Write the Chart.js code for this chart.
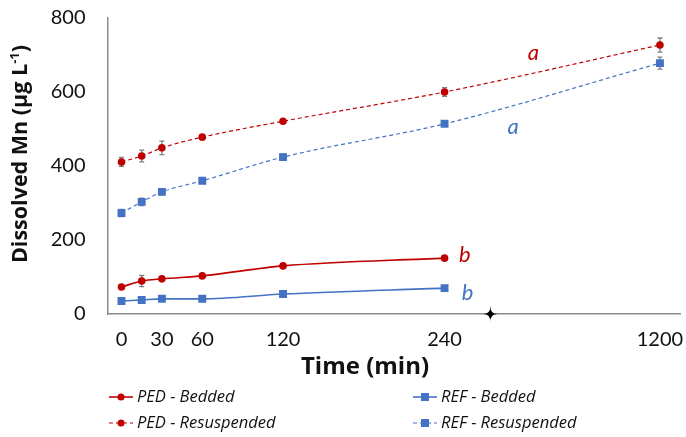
<!DOCTYPE html>
<html>
<head>
<meta charset="utf-8">
<script src="https://cdn.jsdelivr.net/npm/chart.js@4.4.1/dist/chart.umd.min.js"></script>
<style>
  html, body { margin: 0; padding: 0; background: #ffffff; }
  #caixa { width: 686px; height: 437px; position: relative; }
</style>
</head>
<body>
<div id="caixa"><canvas id="grafico"></canvas></div>
<script>
// valores
const tempos = [0, 15, 30, 60, 120, 240, 1200];
const temposTicks = [0, 30, 60, 120, 240, 1200];
const ticksY = [0, 200, 400, 600, 800];

const pedBedded = [73, 89, 95, 103, 130, 151];
const refBedded = [35, 38, 41, 41, 54, 70];
const pedResuspended = [411, 427, 449, 478, 521, 600, 727];
const refResuspended = [273, 303, 330, 360, 424, 514, 678];

const erroPedBedded = [4, 15, 5, 4, 4, 4];
const erroRefBedded = [3, 4, 3, 3, 3, 3];
const erroPedResuspended = [12, 16, 18, 6, 5, 12, 19];
const erroRefResuspended = [10, 10, 8, 5, 8, 6, 16];

const cores = {
    vermelho: '#C00000',
    azul: '#4472C4',
    erro: '#7F7F7F',
    eixo: '#8C8C8C',
    texto: '#111111'
};

// eixo x com quebra: tudo depois de 240 min vai para a posição 400
const quebra = { ate: 240, posicao: 400, marca: 274 };
function posX(t) {
    return t > quebra.ate ? quebra.posicao : t;
}

function pontos(valores) {
    return valores.map((v, i) => ({ x: posX(tempos[i]), y: v }));
}

const fonte = "'Lato', 'Open Sans', sans-serif";
const fonteTitulo = "'Open Sans', 'Lato', sans-serif";

// letras de significância (em unidades dos eixos)
const letras = [
    { texto: 'a', x: 306, y: 705, cor: cores.vermelho },
    { texto: 'a', x: 291, y: 505, cor: cores.azul },
    { texto: 'b', x: 255, y: 160, cor: cores.vermelho },
    { texto: 'b', x: 257, y: 58, cor: cores.azul }
];

const pluginErros = {
    id: 'barrasDeErro',
    beforeDatasetsDraw(chart) {
        const { ctx, scales: { x, y } } = chart;
        ctx.save();
        ctx.strokeStyle = cores.erro;
        ctx.lineWidth = 1.3;
        chart.data.datasets.forEach(ds => {
            ds.erros.forEach((e, j) => {
                const p = ds.data[j];
                const px = x.getPixelForValue(p.x);
                const cima = y.getPixelForValue(p.y + e);
                const baixo = y.getPixelForValue(p.y - e);
                ctx.beginPath();
                ctx.moveTo(px, cima); ctx.lineTo(px, baixo);
                ctx.moveTo(px - 2.5, cima); ctx.lineTo(px + 2.5, cima);
                ctx.moveTo(px - 2.5, baixo); ctx.lineTo(px + 2.5, baixo);
                ctx.stroke();
            });
        });
        ctx.restore();
    }
};

const pluginExtras = {
    id: 'extras',
    afterDraw(chart) {
        const { ctx, scales: { x, y } } = chart;
        ctx.save();

        // letras
        ctx.font = 'italic 22px ' + fonte;
        ctx.textAlign = 'center';
        ctx.textBaseline = 'middle';
        letras.forEach(l => {
            ctx.fillStyle = l.cor;
            ctx.fillText(l.texto, x.getPixelForValue(l.x), y.getPixelForValue(l.y));
        });

        // marca da quebra no eixo x
        const bx = x.getPixelForValue(quebra.marca);
        const by = y.getPixelForValue(0);
        ctx.fillStyle = '#000000';
        ctx.beginPath();
        ctx.moveTo(bx, by - 8);
        ctx.quadraticCurveTo(bx, by, bx + 7, by);
        ctx.quadraticCurveTo(bx, by, bx, by + 8);
        ctx.quadraticCurveTo(bx, by, bx - 7, by);
        ctx.quadraticCurveTo(bx, by, bx, by - 8);
        ctx.fill();

        // título do eixo x
        ctx.fillStyle = cores.texto;
        ctx.font = 'bold 24px ' + fonteTitulo;
        ctx.textAlign = 'center';
        ctx.textBaseline = 'middle';
        ctx.fillText('Time (min)', 365, 367);

        // título do eixo y com expoente
        ctx.translate(27, 154);
        ctx.rotate(-Math.PI / 2);
        ctx.textBaseline = 'alphabetic';
        ctx.textAlign = 'left';
        const partes = [
            { t: 'Dissolved Mn (µg L', f: 'bold 21.5px ' + fonteTitulo, dy: 0 },
            { t: '-1', f: 'bold 13px ' + fonteTitulo, dy: -8 },
            { t: ')', f: 'bold 21.5px ' + fonteTitulo, dy: 0 }
        ];
        let total = 0;
        partes.forEach(p => { ctx.font = p.f; total += ctx.measureText(p.t).width; });
        let cx = -total / 2;
        partes.forEach(p => {
            ctx.font = p.f;
            ctx.fillText(p.t, cx, p.dy);
            cx += ctx.measureText(p.t).width;
        });
        ctx.restore();

        // legenda em duas colunas
        ctx.save();
        ctx.font = 'italic 16.5px ' + fonteTitulo;
        ctx.textBaseline = 'middle';
        ctx.textAlign = 'left';
        const colunas = [109, 413];
        const linhas = [397, 423];
        chart.data.datasets.forEach((ds, i) => {
            const lx = colunas[i % 2];
            const ly = linhas[Math.floor(i / 2)];
            ctx.strokeStyle = ds.borderColor;
            ctx.lineWidth = ds.borderWidth;
            ctx.setLineDash(ds.borderDash || []);
            ctx.beginPath();
            ctx.moveTo(lx, ly); ctx.lineTo(lx + 24, ly);
            ctx.stroke();
            ctx.setLineDash([]);
            ctx.fillStyle = ds.pointBackgroundColor;
            if (ds.pointStyle === 'rect') {
                ctx.fillRect(lx + 12 - 4, ly - 4, 8, 8);
            } else {
                ctx.beginPath();
                ctx.arc(lx + 12, ly, 3.5, 0, Math.PI * 2);
                ctx.fill();
            }
            ctx.fillStyle = cores.texto;
            ctx.fillText(ds.label, lx + 28, ly);
        });
        ctx.restore();
    }
};

function serie(label, valores, erros, cor, estilo, tracejado) {
    return {
        label: label,
        data: pontos(valores),
        erros: erros,
        borderColor: cor,
        backgroundColor: cor,
        pointBackgroundColor: cor,
        pointBorderColor: cor,
        pointStyle: estilo,
        pointRadius: estilo === 'rect' ? 5.6 : 3.8,
        pointBorderWidth: 0,
        borderWidth: tracejado ? 1.2 : 1.6,
        borderDash: tracejado ? [4, 3] : undefined,
        cubicInterpolationMode: 'monotone',
        fill: false
    };
}

new Chart(document.getElementById('grafico'), {
    type: 'line',
    data: {
        datasets: [
            serie('PED - Bedded', pedBedded, erroPedBedded, cores.vermelho, 'circle', false),
            serie('REF - Bedded', refBedded, erroRefBedded, cores.azul, 'rect', false),
            serie('PED - Resuspended', pedResuspended, erroPedResuspended, cores.vermelho, 'circle', true),
            serie('REF - Resuspended', refResuspended, erroRefResuspended, cores.azul, 'rect', true)
        ]
    },
    options: {
        responsive: true,
        maintainAspectRatio: false,
        animation: false,
        layout: { padding: { top: 18, right: 0, left: 0, bottom: 0 } },
        plugins: {
            legend: { display: false },
            tooltip: { enabled: false }
        },
        scales: {
            x: {
                type: 'linear',
                min: -10.4,
                max: 415.2,
                grid: { display: false, drawTicks: false },
                border: { display: true, color: cores.eixo, width: 1.5 },
                afterBuildTicks: function (scale) {
                    scale.ticks = temposTicks.map(t => ({ value: posX(t) }));
                },
                afterFit: function (scale) {
                    scale.height = 123;
                    scale.paddingLeft = 0;
                    scale.paddingRight = 0;
                },
                ticks: {
                    autoSkip: false,
                    maxRotation: 0,
                    minRotation: 0,
                    padding: 14,
                    color: cores.texto,
                    font: { family: fonte, size: 20 },
                    callback: function (value, index) { return String(temposTicks[index]); }
                }
            },
            y: {
                min: 0,
                max: 800,
                grid: { display: false, drawTicks: false },
                border: { display: true, color: cores.eixo, width: 1.5 },
                afterBuildTicks: function (scale) {
                    scale.ticks = ticksY.map(v => ({ value: v }));
                },
                afterFit: function (scale) {
                    scale.width = 107.5;
                    scale.paddingTop = 0;
                    scale.paddingBottom = 0;
                },
                ticks: {
                    padding: 22,
                    color: cores.texto,
                    font: { family: fonte, size: 20 }
                }
            }
        }
    },
    plugins: [pluginErros, pluginExtras]
});
</script>
</body>
</html>
